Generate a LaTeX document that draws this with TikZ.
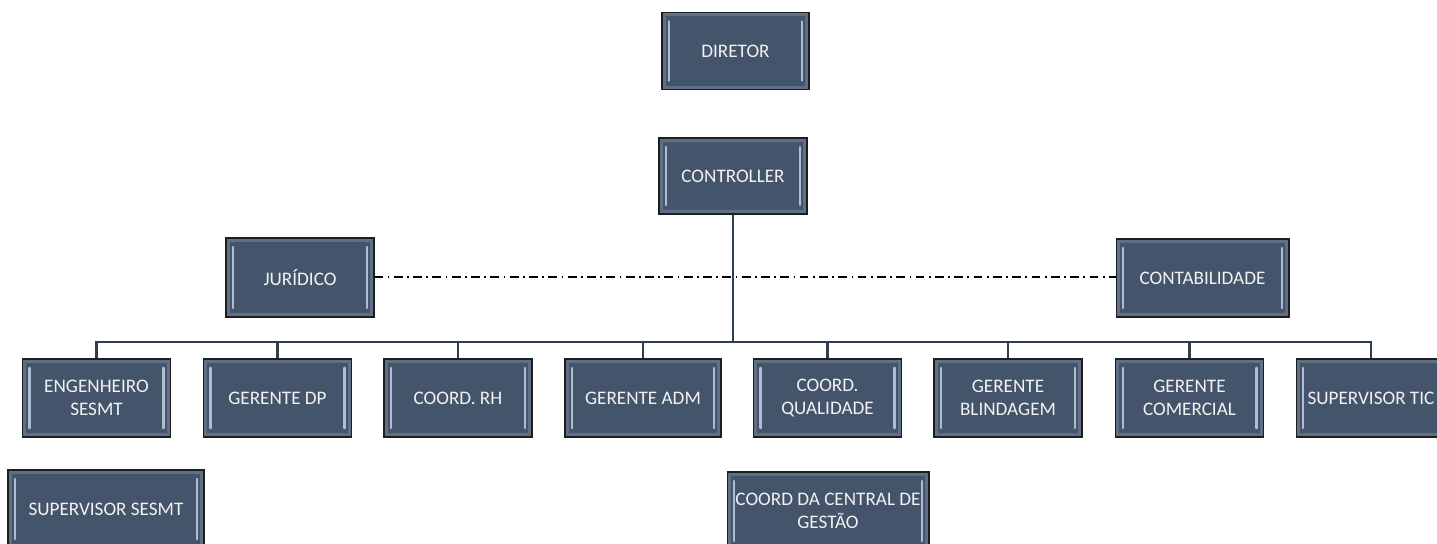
\documentclass[tikz,border=0pt]{standalone}
\usepackage{fontspec}
\setmainfont{Carlito}
\definecolor{boxfill}{HTML}{44546A}
\definecolor{boxedge}{HTML}{1E1E1E}
\definecolor{bevelband}{HTML}{5F6F86}
\definecolor{bevellight}{HTML}{AEBDD0}
\definecolor{linkcol}{HTML}{2F3D52}
\begin{document}
\begin{tikzpicture}[x=0.02cm, y=-0.02cm,
        orgbox/.style={rectangle, draw=boxedge, line width=0.6pt, fill=boxfill,
            text=white!95!black, align=center, inner sep=0pt,
            minimum width=2.96cm, minimum height=1.56cm,
            font=\fontsize{10.9}{13.4}\selectfont,
            path picture={
                \draw[bevelband, line width=1.8pt]
                    ([xshift=1.3pt,yshift=1.3pt]path picture bounding box.south west) rectangle
                    ([xshift=-1.3pt,yshift=-1.3pt]path picture bounding box.north east);
                \draw[bevellight, line width=1.2pt, line cap=round]
                    ([xshift=4pt,yshift=5pt]path picture bounding box.south west) --
                    ([xshift=4pt,yshift=-5pt]path picture bounding box.north west);
                \draw[bevellight, line width=1.2pt, line cap=round]
                    ([xshift=-4pt,yshift=5pt]path picture bounding box.south east) --
                    ([xshift=-4pt,yshift=-5pt]path picture bounding box.north east);
            }},
        link/.style={draw=linkcol, line width=1.2pt},
        staff/.style={draw=black, line width=0.6pt, dash pattern=on 5pt off 2.5pt on 1pt off 2.5pt}]
        \useasboundingbox (0,0) rectangle (1437,544);

        % top levels
        \node (diretor) [orgbox, minimum width=2.94cm, minimum height=1.54cm] at (735.5,51) {DIRETOR};
        \node (ctrl) [orgbox, minimum height=1.52cm] at (733,176) {CONTROLLER};

        % staff
        \node (jur) [orgbox, minimum height=1.58cm] at (300,277.5) {JURÍDICO};
        \node (cont) [orgbox, minimum width=3.46cm] at (1202.5,278) {CONTABILIDADE};

        % managers
        \node (eng) [orgbox] at (96.5,398) {ENGENHEIRO\\SESMT};
        \node (dp) [orgbox] at (277.5,398) {GERENTE DP};
        \node (rh) [orgbox] at (458,398) {COORD. RH};
        \node (adm) [orgbox, minimum width=3.12cm] at (643,398) {GERENTE ADM};
        \node (qual) [orgbox] at (827.5,398) {COORD.\\QUALIDADE};
        \node (blind) [orgbox] at (1008,398) {GERENTE\\BLINDAGEM};
        \node (com) [orgbox] at (1189.5,398) {GERENTE\\COMERCIAL};
        \node (tic) [orgbox, minimum width=3.0cm] at (1371,398) {SUPERVISOR TIC};

        % bottom row
        \node (sesmt) [orgbox, minimum width=3.92cm] at (106,509) {SUPERVISOR SESMT};
        \node (central) [orgbox, minimum width=4.04cm] at (828,511) {COORD DA CENTRAL DE\\GESTÃO};

        \coordinate (bus) at (733,342);
        \coordinate (dots) at (733,277);

        \draw [staff] (jur.east |- dots) -- (cont.west |- dots);

        \draw [link] (ctrl.south) -- (bus);
        \draw [link] (eng.north) |- (bus) -| (tic.north);
        \path [link] (dp.north) edge (dp.north |- bus)
                     (rh.north) edge (rh.north |- bus)
                     (adm.north) edge (adm.north |- bus)
                     (qual.north) edge (qual.north |- bus)
                     (blind.north) edge (blind.north |- bus)
                     (com.north) edge (com.north |- bus);
    \end{tikzpicture}
\end{document}
